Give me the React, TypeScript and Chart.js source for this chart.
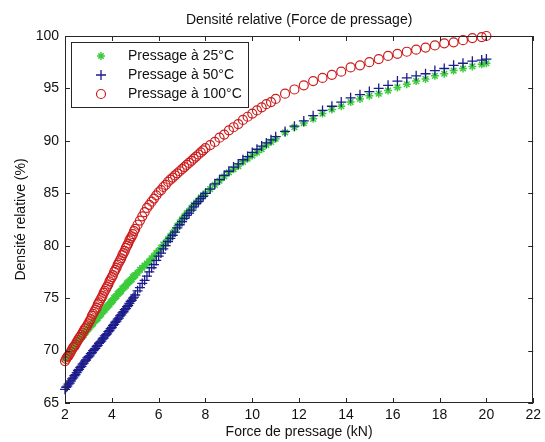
import React, { useEffect, useRef } from "react";
import { Chart, registerables } from "chart.js";
import { drawPoint } from "chart.js/helpers";

Chart.register(...registerables);

// ---- Data ----
const forceKN = [
  2.00, 2.05, 2.10, 2.15, 2.20, 2.25, 2.30, 2.35, 2.40, 2.45,
  2.50, 2.55, 2.60, 2.65, 2.70, 2.75, 2.80, 2.85, 2.90, 2.95,
  3.00, 3.05, 3.10, 3.15, 3.20, 3.25, 3.30, 3.35, 3.40, 3.45,
  3.50, 3.55, 3.60, 3.65, 3.70, 3.75, 3.80, 3.85, 3.90, 3.95,
  4.00, 4.05, 4.10, 4.15, 4.20, 4.25, 4.30, 4.35, 4.40, 4.45,
  4.50, 4.55, 4.60, 4.65, 4.70, 4.75, 4.80, 4.85, 4.90, 4.95,
  5.00,
  5.1, 5.2, 5.3, 5.4, 5.5, 5.6, 5.7, 5.8, 5.9, 6.0,
  6.1, 6.2, 6.3, 6.4, 6.5, 6.6, 6.7, 6.8, 6.9, 7.0,
  7.1, 7.2, 7.3, 7.4, 7.5, 7.6, 7.7, 7.8, 7.9, 8.0,
  8.2, 8.4, 8.6, 8.8, 9.0, 9.2, 9.4, 9.6, 9.8, 10.0,
  10.2, 10.4, 10.6, 10.8, 11.0,
  11.4, 11.8, 12.2, 12.6, 13.0, 13.4, 13.8, 14.2, 14.6, 15.0,
  15.4, 15.8, 16.2, 16.6, 17.0, 17.4, 17.8, 18.2, 18.6, 19.0,
  19.4, 19.8, 20.0,
];

const densite25 = [
  69.2, 69.4, 69.5, 69.7, 69.8, 70.0, 70.1, 70.3, 70.4, 70.6,
  70.7, 70.8, 71.0, 71.1, 71.3, 71.4, 71.5, 71.7, 71.8, 72.0,
  72.1, 72.2, 72.4, 72.5, 72.6, 72.8, 72.9, 73.0, 73.1, 73.3,
  73.4, 73.5, 73.7, 73.8, 73.9, 74.1, 74.2, 74.3, 74.4, 74.6,
  74.7, 74.8, 75.0, 75.1, 75.2, 75.4, 75.5, 75.6, 75.7, 75.9,
  76.0, 76.1, 76.2, 76.4, 76.5, 76.6, 76.7, 76.8, 77.0, 77.1,
  77.2,
  77.4, 77.7, 77.9, 78.1, 78.3, 78.5, 78.8, 79.0, 79.3, 79.5,
  79.8, 80.1, 80.3, 80.6, 80.9, 81.2, 81.5, 81.9, 82.2, 82.5,
  82.8, 83.1, 83.3, 83.6, 83.9, 84.1, 84.3, 84.6, 84.8, 85.0,
  85.4, 85.8, 86.2, 86.6, 87.0, 87.3, 87.6, 88.0, 88.3, 88.6,
  88.9, 89.2, 89.6, 89.9, 90.2,
  90.8, 91.3, 91.7, 92.1, 92.6, 93.0, 93.3, 93.7, 94.0, 94.3,
  94.5, 94.8, 95.1, 95.4, 95.7, 95.9, 96.2, 96.4, 96.7, 96.9,
  97.1, 97.3, 97.4,
];

const densite50 = [
  66.3, 66.5, 66.6, 66.8, 66.9, 67.1, 67.3, 67.4, 67.6, 67.7,
  67.9, 68.1, 68.2, 68.4, 68.5, 68.7, 68.8, 69.0, 69.1, 69.3,
  69.4, 69.5, 69.7, 69.8, 70.0, 70.1, 70.2, 70.4, 70.5, 70.7,
  70.8, 70.9, 71.1, 71.2, 71.4, 71.5, 71.6, 71.8, 71.9, 72.1,
  72.2, 72.4, 72.5, 72.7, 72.8, 73.0, 73.1, 73.3, 73.4, 73.6,
  73.7, 73.9, 74.0, 74.2, 74.3, 74.5, 74.7, 74.8, 75.0, 75.1,
  75.3,
  75.7, 76.0, 76.4, 76.7, 77.1, 77.5, 77.9, 78.2, 78.6, 79.0,
  79.3, 79.7, 80.0, 80.4, 80.7, 81.0, 81.3, 81.7, 82.0, 82.3,
  82.6, 82.9, 83.1, 83.4, 83.7, 84.0, 84.2, 84.5, 84.7, 85.0,
  85.4, 85.9, 86.3, 86.7, 87.1, 87.5, 87.8, 88.2, 88.5, 88.9,
  89.2, 89.5, 89.8, 90.1, 90.4,
  90.9, 91.4, 91.9, 92.4, 92.9, 93.3, 93.7, 94.1, 94.4, 94.7,
  95.0, 95.3, 95.7, 96.0, 96.2, 96.4, 96.7, 96.9, 97.2, 97.4,
  97.6, 97.7, 97.8,
];

const densite100 = [
  69.0, 69.2, 69.4, 69.5, 69.7, 69.9, 70.1, 70.3, 70.4, 70.6,
  70.8, 71.0, 71.2, 71.3, 71.5, 71.7, 71.9, 72.1, 72.2, 72.4,
  72.6, 72.8, 73.0, 73.3, 73.5, 73.7, 73.9, 74.1, 74.4, 74.6,
  74.8, 75.0, 75.2, 75.5, 75.7, 75.9, 76.1, 76.3, 76.6, 76.8,
  77.0, 77.2, 77.5, 77.7, 77.9, 78.2, 78.4, 78.6, 78.8, 79.1,
  79.3, 79.5, 79.8, 80.0, 80.2, 80.5, 80.7, 80.9, 81.1, 81.4,
  81.6,
  82.0, 82.4, 82.8, 83.2, 83.6, 83.9, 84.2, 84.5, 84.8, 85.1,
  85.3, 85.6, 85.8, 86.1, 86.3, 86.5, 86.7, 86.9, 87.1, 87.3,
  87.5, 87.7, 87.9, 88.1, 88.3, 88.5, 88.7, 88.9, 89.1, 89.3,
  89.6, 89.9, 90.3, 90.6, 91.0, 91.3, 91.6, 92.0, 92.3, 92.6,
  92.9, 93.2, 93.5, 93.7, 94.0,
  94.5, 94.9, 95.3, 95.7, 96.0, 96.3, 96.6, 97.0, 97.2, 97.5,
  97.8, 98.1, 98.3, 98.5, 98.7, 98.9, 99.1, 99.3, 99.4, 99.6,
  99.8, 99.9, 100.0,
];

const seriesLabels = ["Pressage à 25°C", "Pressage à 50°C", "Pressage à 100°C"];
const chartTitle = "Densité relative (Force de pressage)";
const xAxisTitle = "Force de pressage (kN)";
const yAxisTitle = "Densité relative (%)";
const xMin = 2;
const xMax = 22;
const xStep = 2;
const yMin = 65;
const yMax = 100;
const yStep = 5;

const FONT_FAMILY = '"Liberation Sans", Arial, Helvetica, sans-serif';

const seriesStyles = [
  { color: "#3ccc3c", pointStyle: "star", radius: 4, width: 1.5 },
  { color: "#1c1c8c", pointStyle: "cross", radius: 5, width: 1.3 },
  { color: "#cc1c1c", pointStyle: "circle", radius: 4.5, width: 1.2 },
];

const toPoints = (ys: number[]) => forceKN.map((x, i) => ({ x, y: ys[i] }));

const matlabPlugin = {
  id: "matlabFrame",
  afterDatasetsDraw(chart: any) {
    const { ctx, chartArea } = chart;
    const { left, right, top, bottom } = chartArea;
    const xs = chart.scales.x;
    const ys = chart.scales.y;
    ctx.save();
    ctx.strokeStyle = "#262626";
    ctx.lineWidth = 1;
    ctx.strokeRect(Math.round(left) + 0.5, Math.round(top) + 0.5, Math.round(right - left) - 1, Math.round(bottom - top) - 1);
    const tl = 5;
    ctx.beginPath();
    xs.ticks.forEach((t: any) => {
      const px = Math.round(xs.getPixelForValue(t.value)) + 0.5;
      ctx.moveTo(px, bottom);
      ctx.lineTo(px, bottom - tl);
      ctx.moveTo(px, top);
      ctx.lineTo(px, top + tl);
    });
    ys.ticks.forEach((t: any) => {
      const py = Math.round(ys.getPixelForValue(t.value)) + 0.5;
      ctx.moveTo(left, py);
      ctx.lineTo(left + tl, py);
      ctx.moveTo(right, py);
      ctx.lineTo(right - tl, py);
    });
    ctx.stroke();
    ctx.restore();
  },
  afterDraw(chart: any) {
    const { ctx, chartArea } = chart;
    ctx.save();
    ctx.fillStyle = "#111";
    ctx.font = `14px ${FONT_FAMILY}`;
    ctx.textAlign = "center";
    ctx.textBaseline = "middle";
    ctx.fillText(chartTitle, (chartArea.left + chartArea.right) / 2, 20);

    const bx = 71, by = 42, bw = 177, bh = 65;
    ctx.fillStyle = "#ffffff";
    ctx.fillRect(bx, by, bw, bh);
    ctx.strokeStyle = "#262626";
    ctx.lineWidth = 1;
    ctx.strokeRect(bx + 0.5, by + 0.5, bw, bh);
    const rows = [56, 75, 94];
    chart.data.datasets.forEach((ds: any, i: number) => {
      const st = seriesStyles[i];
      ctx.strokeStyle = st.color;
      ctx.fillStyle = "rgba(0,0,0,0)";
      ctx.lineWidth = st.width;
      drawPoint(ctx, { pointStyle: st.pointStyle, radius: st.radius, rotation: 0, borderWidth: st.width }, 101, rows[i]);
      ctx.fillStyle = "#111";
      ctx.font = `14px ${FONT_FAMILY}`;
      ctx.textAlign = "left";
      ctx.textBaseline = "middle";
      ctx.fillText(ds.label, 128, rows[i]);
    });
    ctx.restore();
  },
};

export default function App() {
  const canvasRef = useRef<HTMLCanvasElement | null>(null);

  useEffect(() => {
    const canvas = canvasRef.current;
    if (!canvas) return;
    const seriesData = [densite25, densite50, densite100];
    const chart = new Chart(canvas, {
      type: "scatter",
      data: {
        datasets: seriesData.map((ys, i) => ({
          label: seriesLabels[i],
          data: toPoints(ys),
          pointStyle: seriesStyles[i].pointStyle as any,
          pointRadius: seriesStyles[i].radius,
          pointBorderWidth: seriesStyles[i].width,
          borderColor: seriesStyles[i].color,
          backgroundColor: "rgba(0,0,0,0)",
          pointBackgroundColor: "rgba(0,0,0,0)",
          pointBorderColor: seriesStyles[i].color,
          showLine: false,
          clip: false as any,
          order: 2 - i,
        })),
      },
      options: {
        responsive: false,
        animation: false,
        events: [],
        layout: { padding: { top: 36, right: 11, left: 0, bottom: 0 } },
        plugins: {
          legend: { display: false },
          title: { display: false },
          tooltip: { enabled: false },
        },
        scales: {
          x: {
            type: "linear",
            min: xMin,
            max: xMax,
            grid: { display: false, drawTicks: false },
            border: { display: false },
            ticks: {
              stepSize: xStep,
              padding: 4,
              color: "#111",
              font: { family: FONT_FAMILY, size: 14 },
              maxRotation: 0,
            },
            title: {
              display: true,
              text: xAxisTitle,
              color: "#111",
              font: { family: FONT_FAMILY, size: 14 },
              padding: { top: 0, bottom: 1 },
            },
            afterFit: (s: any) => {
              s.height = 39;
            },
          },
          y: {
            type: "linear",
            min: yMin,
            max: yMax,
            grid: { display: false, drawTicks: false },
            border: { display: false },
            ticks: {
              stepSize: yStep,
              padding: 6,
              color: "#111",
              font: { family: FONT_FAMILY, size: 14 },
            },
            title: {
              display: true,
              text: yAxisTitle,
              color: "#111",
              font: { family: FONT_FAMILY, size: 14 },
              padding: { top: 12.5, bottom: 0 },
            },
            afterFit: (s: any) => {
              s.width = 65;
            },
          },
        },
      },
      plugins: [matlabPlugin],
    });
    return () => chart.destroy();
  }, []);

  return (
    <div style={{ position: "absolute", left: 0, top: 0, width: 545, height: 442, background: "#ffffff" }}>
      <canvas ref={canvasRef} width={545} height={442} style={{ display: "block" }} />
    </div>
  );
}
